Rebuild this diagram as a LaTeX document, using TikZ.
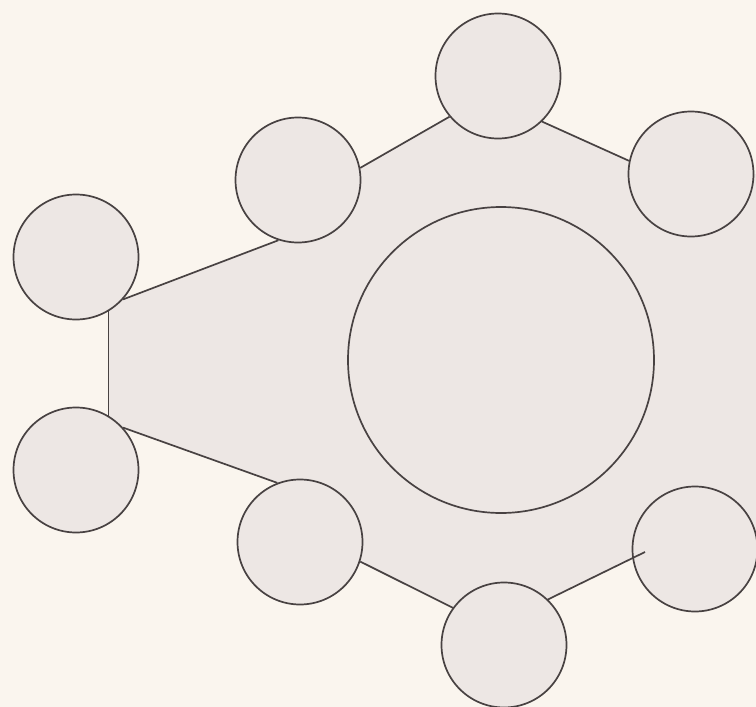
\documentclass[tikz,border=0pt]{standalone}
\usetikzlibrary{backgrounds}
\definecolor{paper}{RGB}{250,245,238}
\definecolor{fillgray}{RGB}{237,231,228}
\definecolor{ink}{RGB}{72,66,66}
\tikzset{
  blob/.style={circle,draw=ink,fill=fillgray,line width=1.7pt,minimum size=125pt,inner sep=0pt},
  hub/.style={circle,draw=ink,fill=fillgray,line width=1.7pt,minimum size=306pt,inner sep=0pt},
  link/.style={draw=ink,line width=1.7pt}
}
\begin{document}
\begin{tikzpicture}[x=1pt,y=-1pt]
\useasboundingbox (0,0) rectangle (756,707);
\node[blob] (c1) at (76,257) {};
\node[blob] (c2) at (76,470) {};
\node[blob] (c3) at (298,180) {};
\node[blob] (c4) at (498,76) {};
\node[blob] (c5) at (691,174) {};
\node[blob] (c6) at (300,542) {};
\node[blob] (c7) at (504,645) {};
\node[blob] (c8) at (695,549) {};
\node[hub] (hub) at (501,360) {};
\coordinate (gend) at (645,552);
\coordinate (rtop) at (756,174);
\coordinate (rbot) at (756,549);
\begin{pgfonlayer}{background}
\fill[fill=paper] (0,0) rectangle (756,707);
\fill[fill=fillgray] (c1.-59.8) -- (c1.-42.6) -- (c3.-108) -- (c3.center) -- (c3.11.8)
  -- (c4.-140) -- (c4.center) -- (c4.-46.2) -- (c5.168.9) -- (c5.center) -- (rtop)
  -- (rbot) -- (c8.center) -- (gend) -- (c7.46.2) -- (c7.center) -- (c7.144.6)
  -- (c6.-18.4) -- (c6.center) -- (c6.111.3) -- (c2.42.5) -- (c2.59.8) -- cycle;
\end{pgfonlayer}
\draw[link] (c1.-42.6) -- (c3.-108);
\draw[link] (c3.11.8) -- (c4.-140);
\draw[link] (c4.-46.2) -- (c5.168.9);
\draw[link] (c1.-59.8) -- (c2.59.8);
\draw[link] (c2.42.5) -- (c6.111.3);
\draw[link] (c6.-18.4) -- (c7.144.6);
\draw[link] (c7.46.2) -- (gend);
\end{tikzpicture}
\end{document}
